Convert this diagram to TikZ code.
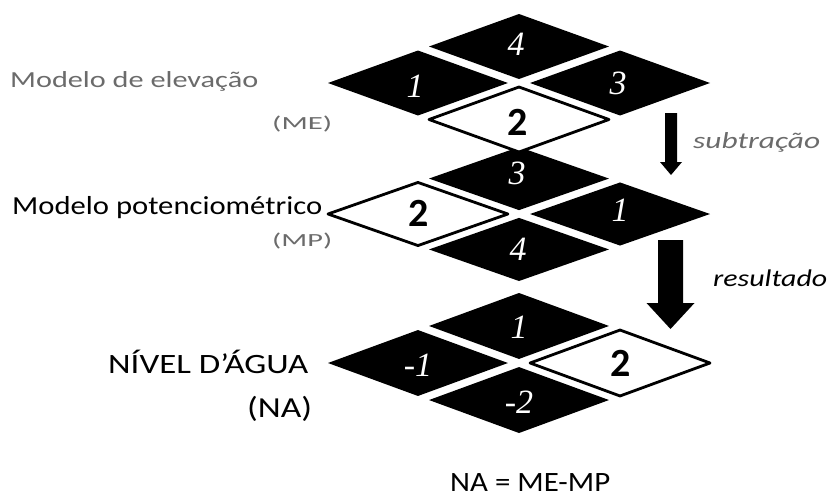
\documentclass[tikz,border=0pt]{standalone}
\usepackage{graphicx}
\usepackage{fontspec}
\setmainfont{Carlito}
\newfontfamily\digitfont{Liberation Serif}
\usetikzlibrary{calc}

% stretch a text horizontally to a given width, keeping its height
\newcommand{\fitto}[2]{\resizebox{#1}{\height}{#2}}

% shrink factor of each quarter towards its outer corner (leaves the white gaps)
\def\kf{0.942}

% one quarter of a layer: outer corner, side midpoint, centre, other side midpoint, style
\newcommand{\tile}[5]{%
  \path[#5] (#1) -- ($(#1)!\kf!(#2)$) -- ($(#1)!\kf!(#3)$) -- ($(#1)!\kf!(#4)$) -- cycle;}

% corner and midpoint coordinates of one rhombic layer: name, cx, cy, half-height
\newcommand{\layer}[4]{%
  \coordinate (#1-C) at (#2,#3);
  \coordinate (#1-L) at ($(#1-C)+(-191,0)$);
  \coordinate (#1-R) at ($(#1-C)+(191,0)$);
  \coordinate (#1-T) at ($(#1-C)+(0,-#4)$);
  \coordinate (#1-B) at ($(#1-C)+(0,#4)$);
  \coordinate (#1-LT) at ($(#1-L)!0.5!(#1-T)$);
  \coordinate (#1-TR) at ($(#1-T)!0.5!(#1-R)$);
  \coordinate (#1-RB) at ($(#1-R)!0.5!(#1-B)$);
  \coordinate (#1-BL) at ($(#1-B)!0.5!(#1-L)$);}

\tikzset{
  darktile/.style={fill=black},
  lighttile/.style={fill=white, draw=black, line width=2.8pt, line join=round},
  darknum/.style={inner sep=0pt, text=white, font=\digitfont\itshape\fontsize{34}{34}\selectfont},
  lightnum/.style={inner sep=0pt, text=black, font=\bfseries\fontsize{40}{40}\selectfont},
  faintlabel/.style={inner sep=0pt, anchor=base west, text=black!58},
  darklabel/.style={inner sep=0pt, anchor=base west, text=black},
  blockarrow/.style={fill=black},
}

\begin{document}
\begin{tikzpicture}[x=1pt, y=-1pt]
\useasboundingbox (0,0) rectangle (835,498);

% ---- potentiometric model (middle layer) ----
\layer{mp}{519}{214}{67}
\tile{mp-T}{mp-TR}{mp-C}{mp-LT}{darktile}
\tile{mp-L}{mp-LT}{mp-C}{mp-BL}{lighttile}
\tile{mp-R}{mp-TR}{mp-C}{mp-RB}{darktile}
\tile{mp-B}{mp-RB}{mp-C}{mp-BL}{darktile}
\node[darknum]  (mp-n3) at (517,173) {3};
\node[lightnum] (mp-n2) at (419,213) {2};
\node[darknum]  (mp-n1) at (620,210) {1};
\node[darknum]  (mp-n4) at (518,249) {4};

% ---- elevation model (top layer) ----
\layer{me}{519}{83}{69}
\tile{me-T}{me-TR}{me-C}{me-LT}{darktile}
\tile{me-L}{me-LT}{me-C}{me-BL}{darktile}
\tile{me-R}{me-TR}{me-C}{me-RB}{darktile}
\tile{me-B}{me-RB}{me-C}{me-BL}{lighttile}
\node[darknum]  (me-n4) at (516,44) {4};
\node[darknum]  (me-n1) at (415,86) {1};
\node[darknum]  (me-n3) at (618,83) {3};
\node[lightnum] (me-n2) at (518,122) {2};

% ---- water level (bottom layer) ----
\layer{na}{519}{363}{70}
\tile{na-T}{na-TR}{na-C}{na-LT}{darktile}
\tile{na-L}{na-LT}{na-C}{na-BL}{darktile}
\tile{na-R}{na-TR}{na-C}{na-RB}{lighttile}
\tile{na-B}{na-RB}{na-C}{na-BL}{darktile}
\node[darknum]  (na-n1)  at (519,327) {1};
\node[darknum]  (na-nm1) at (418,365) {-1};
\node[lightnum] (na-n2)  at (621,363) {2};
\node[darknum]  (na-nm2) at (519,402) {-2};

% ---- arrows between the layers ----
\coordinate (subtop) at (671,113);
\coordinate (subtip) at (671,175);
\fill[blockarrow] ($(subtop)+(-6,0)$) -- ($(subtop)+(6,0)$) -- ($(subtip)+(6,-13)$)
  -- ($(subtip)+(11,-13)$) -- (subtip) -- ($(subtip)+(-11,-13)$) -- ($(subtip)+(-6,-13)$) -- cycle;

\coordinate (restop) at (670.5,240);
\coordinate (restip) at (670.5,329);
\fill[blockarrow] ($(restop)+(-12.5,0)$) -- ($(restop)+(12.5,0)$) -- ($(restip)+(12.5,-26)$)
  -- ($(restip)+(24,-26)$) -- (restip) -- ($(restip)+(-24,-26)$) -- ($(restip)+(-12.5,-26)$) -- cycle;

% ---- labels ----
\node[faintlabel, font=\fontsize{23}{23}\selectfont] (lbl-me) at (10,87) {\fitto{248pt}{Modelo de elevação}};
\node[faintlabel, font=\fontsize{18.5}{18.5}\selectfont] (lbl-me2) at (272,129) {\fitto{60pt}{(ME)}};
\node[darklabel, font=\fontsize{26}{26}\selectfont] (lbl-mp) at (12,214) {\fitto{310pt}{Modelo potenciométrico}};
\node[faintlabel, font=\fontsize{18.5}{18.5}\selectfont] (lbl-mp2) at (272,246) {\fitto{60pt}{(MP)}};
\node[faintlabel, font=\itshape\fontsize{23}{23}\selectfont] (lbl-sub) at (693,148) {\fitto{127pt}{subtração}};
\node[darklabel, font=\itshape\fontsize{24}{24}\selectfont] (lbl-res) at (713,286) {\fitto{114pt}{resultado}};
\node[darklabel, font=\fontsize{28}{28}\selectfont] (lbl-na) at (108,373) {\fitto{200pt}{NÍVEL D’ÁGUA}};
\node[darklabel, font=\fontsize{29}{29}\selectfont] (lbl-na2) at (247,417) {\fitto{65pt}{(NA)}};
\node[darklabel, font=\fontsize{28}{28}\selectfont] (lbl-eq) at (450,491) {\fitto{160pt}{NA = ME-MP}};
\end{tikzpicture}
\end{document}
